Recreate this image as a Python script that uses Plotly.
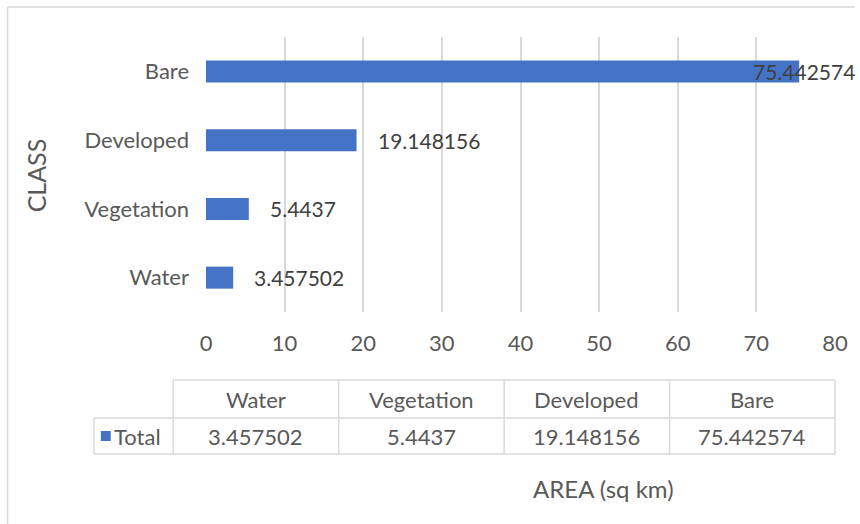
import plotly.graph_objects as go

# Land-cover classes and their total areas (sq km)
classes = ["Water", "Vegetation", "Developed", "Bare"]
areas = [3.457502, 5.4437, 19.148156, 75.442574]
series_name = "Total"
x_ticks = [0, 10, 20, 30, 40, 50, 60, 70, 80]

BAR = "#4472C4"
GRID = "#D9D9D9"
TXT = "#595959"
LBL = "#404040"
FONT = "Lato"

W, H = 860, 524
L, R, T, B = 206, 20, 37, 212
PW, PH = W - L - R, H - T - B


def px(x):
    return (x - L) / PW


def py(y):
    return (H - B - y) / PH


fig = go.Figure()
fig.add_trace(go.Bar(
    x=areas, y=classes, orientation="h", name=series_name,
    marker=dict(color=BAR, line=dict(width=0)), width=0.32,
    hoverinfo="x+y",
))

annotations = []
# value labels at the end of each bar; a label that would run off the
# right edge is pulled back over its bar
for c, v in zip(classes, areas):
    shift = 19 if v < 70 else -48
    annotations.append(dict(
        x=v, y=c, xref="x", yref="y", text=str(v),
        showarrow=False, xanchor="left", xshift=shift,
        font=dict(family=FONT, size=21, color=LBL),
    ))

# data table under the plot
tbl_left, tbl_right = 173, 840
key_left = 93
y_top, y_mid, y_bot = 380, 418, 454
col_w = (tbl_right - tbl_left) / len(classes)

shapes = []
line = dict(color=GRID, width=1.5)
shapes.append(dict(type="line", xref="paper", yref="paper",
                   x0=px(tbl_left), x1=px(tbl_right), y0=py(y_top), y1=py(y_top), line=line))
for yy in (y_mid, y_bot):
    shapes.append(dict(type="line", xref="paper", yref="paper",
                       x0=px(key_left), x1=px(tbl_right), y0=py(yy), y1=py(yy), line=line))
shapes.append(dict(type="line", xref="paper", yref="paper",
                   x0=px(key_left), x1=px(key_left), y0=py(y_mid), y1=py(y_bot), line=line))
for i in range(len(classes) + 1):
    xx = tbl_left + i * col_w
    shapes.append(dict(type="line", xref="paper", yref="paper",
                       x0=px(xx), x1=px(xx), y0=py(y_top), y1=py(y_bot), line=line))

for i, (c, v) in enumerate(zip(classes, areas)):
    cx = tbl_left + (i + 0.5) * col_w
    annotations.append(dict(x=px(cx), y=py((y_top + y_mid) / 2), xref="paper", yref="paper",
                            text=c, showarrow=False, xanchor="center", yanchor="middle",
                            font=dict(family=FONT, size=22, color=TXT)))
    annotations.append(dict(x=px(cx), y=py((y_mid + y_bot) / 2), xref="paper", yref="paper",
                            text=str(v), showarrow=False, xanchor="center", yanchor="middle",
                            font=dict(family=FONT, size=22, color=TXT)))

# legend key in the series row
shapes.append(dict(type="rect", xref="paper", yref="paper",
                   x0=px(100), x1=px(110), y0=py(441), y1=py(431),
                   fillcolor=BAR, line=dict(width=0)))
annotations.append(dict(x=px(111), y=py(436), xref="paper", yref="paper",
                        text=series_name, showarrow=False, xanchor="left", yanchor="middle",
                        font=dict(family=FONT, size=22, color=TXT)))

# axis titles
annotations.append(dict(x=px(607), y=py(488), xref="paper", yref="paper",
                        text="AREA (sq km)", showarrow=False, xanchor="center", yanchor="middle",
                        font=dict(family=FONT, size=24, color=TXT)))
annotations.append(dict(x=px(35), y=py(175), xref="paper", yref="paper",
                        text="CLASS", showarrow=False, xanchor="center", yanchor="middle",
                        textangle=-90, font=dict(family=FONT, size=25, color=TXT)))

# chart frame (top and left edges)
shapes.append(dict(type="line", xref="paper", yref="paper",
                   x0=px(6), x1=px(W), y0=py(7), y1=py(7), line=dict(color=GRID, width=1.5)))
shapes.append(dict(type="line", xref="paper", yref="paper",
                   x0=px(6), x1=px(6), y0=py(7), y1=py(H), line=dict(color=GRID, width=1.5)))

fig.update_layout(
    width=W, height=H,
    margin=dict(l=L, r=R, t=T, b=B, pad=0),
    paper_bgcolor="white", plot_bgcolor="white",
    showlegend=False,
    font=dict(family=FONT, size=22, color=TXT),
    xaxis=dict(range=[0, 80], tickvals=x_ticks, showgrid=True, gridcolor=GRID, gridwidth=1.5,
               zeroline=False, showline=False, ticks="", ticklabelstandoff=16,
               tickfont=dict(family=FONT, size=22, color=TXT), fixedrange=True),
    yaxis=dict(categoryorder="array", categoryarray=classes, showgrid=False, zeroline=False,
               showline=False, ticks="", ticklabelstandoff=16,
               tickfont=dict(family=FONT, size=22, color=TXT), fixedrange=True),
    shapes=shapes, annotations=annotations,
)

fig.write_html("out.html")
